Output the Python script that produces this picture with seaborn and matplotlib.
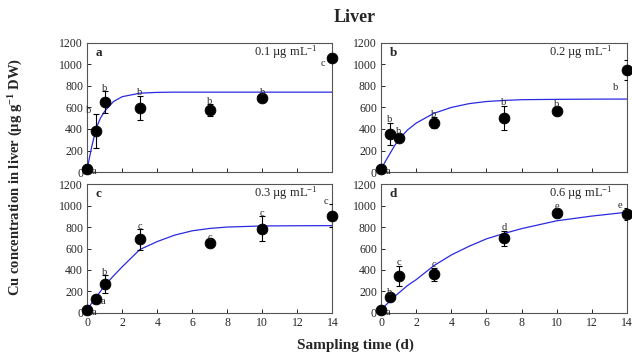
import numpy as np
import pandas as pd
import matplotlib
matplotlib.use("Agg")
import matplotlib.pyplot as plt
import seaborn as sns

# --- data ---
days = [0, 0.5, 1, 3, 7, 10, 14]

mean_a = [30, 380, 650, 595, 575, 690, 1060]
err_a = [10, 160, 100, 115, 55, 20, 0]
lab_a = ['a', 'b', 'b', 'b', 'b', 'b', 'c']
pos_a = ['right', 'upleft', 'up', 'up', 'up', 'up', 'left']

mean_b = [30, 355, 320, 460, 505, 565, 950]
err_b = [10, 105, 25, 50, 110, 35, 95]
lab_b = ['a', 'b', 'b', 'b', 'b', 'b', 'b']
pos_b = ['right', 'up', 'up', 'up', 'up', 'up', 'downleft']

mean_c = [30, 130, 270, 685, 655, 785, 905]
err_c = [10, 35, 80, 95, 15, 115, 105]
lab_c = ['a', 'a', 'b', 'c', 'c', 'c', 'c']
pos_c = ['right', 'right', 'up', 'up', 'up', 'up', 'upleft']

mean_d = [30, 150, 345, 360, 695, 930, 920]
err_d = [10, 15, 95, 60, 70, 35, 55]
lab_d = ['a', 'b', 'c', 'c', 'd', 'e', 'e']
pos_d = ['right', 'up', 'up', 'up', 'up', 'up', 'upleft']

# fitted curves, sampled by eye
fit_x = [0, 0.25, 0.5, 0.75, 1, 1.5, 2, 3, 4, 5, 6, 7, 8, 10, 12, 14]
fit_a = [30, 230, 400, 500, 565, 655, 700, 732, 740, 742, 742, 742, 742, 742, 742, 742]
fit_b = [30, 100, 170, 240, 300, 390, 455, 545, 600, 635, 655, 665, 672, 675, 677, 678]
fit_c = [30, 90, 145, 200, 255, 345, 430, 590, 665, 725, 765, 787, 800, 810, 812, 813]
fit_d = [30, 70, 110, 150, 185, 255, 310, 440, 540, 620, 690, 740, 785, 858, 902, 938]

conc = ['0.1', '0.2', '0.3', '0.6']
panels = ['a', 'b', 'c', 'd']

sns.set_theme(style="ticks")
plt.rcParams['font.family'] = ['Liberation Serif', 'DejaVu Serif']
plt.rcParams['mathtext.default'] = 'regular'

fig = plt.figure(figsize=(6.32, 3.54), dpi=100)
boxes = [[0.138, 0.514, 0.388, 0.365], [0.603, 0.514, 0.389, 0.365],
         [0.138, 0.116, 0.388, 0.364], [0.603, 0.116, 0.389, 0.364]]

means = [mean_a, mean_b, mean_c, mean_d]
errs = [err_a, err_b, err_c, err_d]
labs = [lab_a, lab_b, lab_c, lab_d]
poss = [pos_a, pos_b, pos_c, pos_d]
fits = [fit_a, fit_b, fit_c, fit_d]

offsets = {'up': (0, -1), 'right': (5, -2), 'left': (-7, -4),
           'upleft': (-5, -1), 'downleft': (-8, -13)}

for i in range(4):
    ax = fig.add_axes(boxes[i])
    df = pd.DataFrame({'day': days, 'cu': means[i], 'err': errs[i]})
    fit_df = pd.DataFrame({'day': fit_x, 'cu': fits[i]})
    sns.lineplot(data=fit_df, x='day', y='cu', ax=ax, color='#2a2ae0', lw=0.9,
                 zorder=2)
    ax.errorbar(df['day'], df['cu'], yerr=df['err'], fmt='none', ecolor='black',
                elinewidth=0.8, capsize=2.5, capthick=0.8, zorder=3)
    sns.scatterplot(data=df, x='day', y='cu', ax=ax, color='black', s=60,
                    edgecolor='black', zorder=4, clip_on=False)

    for x, y, e, t, p in zip(days, means[i], errs[i], labs[i], poss[i]):
        if p in ('up', 'upleft'):
            yy = y + e
            va = 'bottom'
        else:
            yy = y
            va = 'center'
        ax.annotate(t, (x, yy), xytext=offsets[p], textcoords='offset points',
                    ha='center', va=va, fontsize=7.5, zorder=5)

    ax.set_xlim(0, 14)
    ax.set_ylim(0, 1200)
    ax.set_xticks(range(0, 15, 2))
    ax.set_yticks(range(0, 1201, 200))
    ax.tick_params(direction='in', length=3, width=0.7, labelsize=8.5, pad=3)
    if i < 2:
        ax.set_xticklabels([])
    for s in ax.spines.values():
        s.set_linewidth(0.8)
        s.set_color('#555555')
    ax.set_xlabel('')
    ax.set_ylabel('')
    ax.text(0.035, 0.925, panels[i], transform=ax.transAxes, fontsize=9.5,
            fontweight='bold', va='center')
    ax.text(0.94, 0.93, conc[i] + ' µg mL$^{-1}$', transform=ax.transAxes,
            fontsize=9, ha='right', va='center')

fig.text(0.562, 0.950, 'Liver', ha='center', va='center', fontsize=13,
         fontweight='bold')
fig.text(0.562, 0.026, 'Sampling time (d)', ha='center', va='center',
         fontsize=11, fontweight='bold')
fig.text(0.025, 0.5, 'Cu concentration in liver (µg g$^{-1}$ DW)', rotation=90,
         ha='center', va='center', fontsize=10.5, fontweight='bold')

fig.savefig('out.png', dpi=100)
